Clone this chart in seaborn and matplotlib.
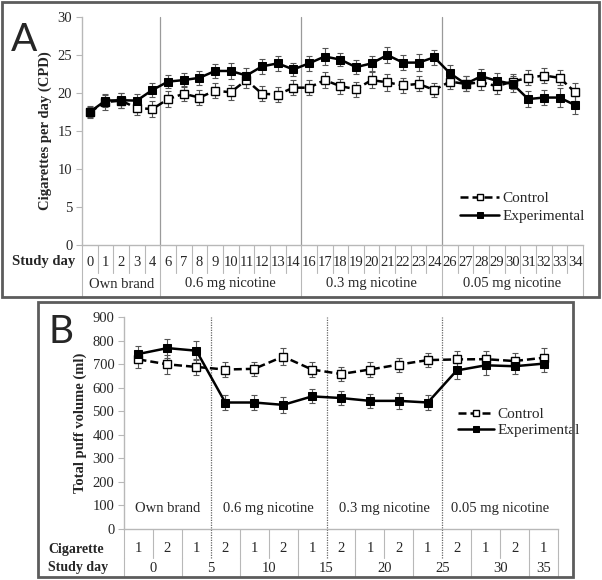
import matplotlib
matplotlib.use("Agg")
import matplotlib.pyplot as plt
import matplotlib.transforms as mtransforms
from matplotlib.patches import Rectangle
import seaborn as sns
import numpy as np
import pandas as pd

# ---------------- data ----------------
# Panel A: cigarettes per day
days_A = [0, 1, 2, 3, 4, 6, 7, 8, 9, 10, 11, 12, 13, 14, 16, 17, 18, 19, 20, 21, 22, 23, 24,
          26, 27, 28, 29, 30, 31, 32, 33, 34]
ctrl_A = [17.5, 18.8, 19.0, 18.0, 17.9, 19.2, 19.9, 19.4, 20.3, 20.1, 21.7, 19.9, 19.8, 20.7,
          20.7, 21.7, 20.9, 20.5, 21.7, 21.4, 21.0, 21.2, 20.4,
          21.5, 21.2, 21.4, 20.9, 21.5, 22.0, 22.3, 22.0, 20.1]
exp_A = [17.5, 19.0, 19.05, 19.0, 20.4, 21.5, 21.7, 22.0, 22.9, 22.9, 22.3, 23.5, 23.9, 23.1,
         23.9, 24.8, 24.4, 23.4, 23.9, 25.0, 24.0, 24.0, 24.7,
         22.6, 21.2, 22.2, 21.6, 21.2, 19.2, 19.4, 19.4, 18.4]
ctrl_A_err = [0.8, 1.0, 1.0, 0.9, 1.0, 1.0, 1.0, 1.0, 1.0, 1.0, 1.0, 1.0, 1.0, 1.0,
              1.0, 1.0, 1.0, 1.0, 1.1, 1.1, 1.0, 1.0, 0.9,
              1.0, 1.0, 1.0, 1.0, 1.0, 1.0, 1.0, 1.0, 1.2]
exp_A_err = [0.7, 0.9, 1.0, 0.9, 0.9, 0.9, 0.9, 0.9, 0.9, 1.0, 1.0, 1.0, 1.0, 0.9,
             1.0, 1.1, 0.9, 0.9, 1.0, 1.0, 1.0, 1.1, 1.0,
             1.1, 1.0, 1.0, 1.0, 1.1, 1.0, 1.0, 1.2, 1.2]
groups = ["Own brand", "0.6 mg nicotine", "0.3 mg nicotine", "0.05 mg nicotine"]
group_sizes_A = [5, 9, 9, 9]

# Panel B: total puff volume
cig_B = [1, 2, 1, 2, 1, 2, 1, 2, 1, 2, 1, 2, 1, 2, 1]
ctrl_B = [720, 699, 688, 677, 680, 732, 677, 658, 677, 698, 717, 720, 721, 713, 727]
exp_B = [743, 768, 757, 537, 537, 527, 563, 556, 544, 544, 537, 673, 695, 691, 702]
ctrl_B_err = [35, 40, 35, 30, 30, 35, 30, 30, 30, 30, 30, 35, 35, 35, 40]
exp_B_err = [35, 40, 40, 30, 30, 35, 30, 30, 30, 35, 30, 35, 40, 35, 35]
group_sizes_B = [3, 4, 4, 4]
study_day_B = ["0", "5", "10", "15", "20", "25", "30", "35"]
study_day_span_B = [2, 2, 2, 2, 2, 2, 2, 1]

# ---------------- style ----------------
sns.set_style("white")
plt.rcParams["font.family"] = ["Liberation Serif", "DejaVu Serif"]
plt.rcParams["legend.numpoints"] = 1

W, H = 602, 580
fig = plt.figure(figsize=(W / 100, H / 100), dpi=100)


def fx(x):
    return x / W


def fy(y):
    return 1 - y / H


GRID = "#b8b8b8"
SEP = "#9a9a9a"
FRAME = "#5c5c5c"

# frames
fig.patches.append(Rectangle((fx(1.5), fy(297)), fx(598.5) - fx(1.5), fy(1.5) - fy(297),
                             transform=fig.transFigure, fill=False, ec=FRAME, lw=2))
fig.patches.append(Rectangle((fx(38), fy(577)), fx(573) - fx(38), fy(302) - fy(577),
                             transform=fig.transFigure, fill=False, ec=FRAME, lw=2))

MS = 6.0

# =============== Panel A ===============
axA = fig.add_axes([fx(82), fy(245), fx(583) - fx(82), fy(17) - fy(245)])
xA = np.arange(len(days_A))
axA.errorbar(xA, ctrl_A, yerr=ctrl_A_err, fmt="none", ecolor="#555555", elinewidth=0.8,
             capsize=2.5, capthick=0.8, zorder=2)
axA.errorbar(xA, exp_A, yerr=exp_A_err, fmt="none", ecolor="#555555", elinewidth=0.8,
             capsize=2.5, capthick=0.8, zorder=2)
sns.lineplot(x=xA, y=ctrl_A, ax=axA, color="black", lw=1.8, ls=(0, (3.2, 1.6)), marker="s",
             markersize=MS, markerfacecolor="white", markeredgecolor="black",
             markeredgewidth=1.0, label="Control", zorder=3)
sns.lineplot(x=xA, y=exp_A, ax=axA, color="black", lw=1.8, marker="s", markersize=MS,
             markerfacecolor="black", markeredgecolor="black", label="Experimental", zorder=4)
axA.set_xlim(-0.5, len(days_A) - 0.5)
axA.set_ylim(0, 30)
axA.set_yticks(range(0, 31, 5))
axA.tick_params(axis="y", labelsize=10.5, length=4, color=GRID, pad=3, left=True)
axA.set_xticks([])
for s in ["top", "right"]:
    axA.spines[s].set_visible(False)
for s in ["left", "bottom"]:
    axA.spines[s].set_color(GRID)
    axA.spines[s].set_linewidth(1.0)
axA.set_ylabel("Cigarettes per day (CPD)", fontsize=10.5, fontweight="bold", labelpad=4)

trA = mtransforms.blended_transform_factory(axA.transData, axA.transAxes)
row1_bot_A = -(273 - 245) / 228
row2_bot_A = -(297 - 245) / 228
bounds_A = np.cumsum([0] + group_sizes_A) - 0.5
for k in range(len(days_A) + 1):
    xb = k - 0.5
    if xb in bounds_A:
        ylo = row2_bot_A
    else:
        ylo = row1_bot_A
    axA.plot([xb, xb], [0, ylo], transform=trA, color=GRID, lw=0.8, clip_on=False)
for xb in bounds_A[1:-1]:
    axA.plot([xb, xb], [0, 1], transform=trA, color=SEP, lw=0.9, clip_on=False)
for i, d in enumerate(days_A):
    axA.text(i, -(262 - 245) / 228, str(d), transform=trA, ha="center", va="center",
             fontsize=10.5)
for g, a, b in zip(groups, bounds_A[:-1], bounds_A[1:]):
    axA.text((a + b) / 2, -(284 - 245) / 228, g, transform=trA, ha="center", va="center",
             fontsize=10.5)
fig.text(fx(12), fy(262), "Study day", fontsize=10.5, fontweight="bold", ha="left", va="center")

axA.legend(loc="upper left", bbox_to_anchor=(fx(452), fy(184)), bbox_transform=fig.transFigure,
           frameon=False, fontsize=11, handlelength=2.6, handletextpad=0.2, labelspacing=0.25,
           borderpad=0, markerscale=0.8)
fig.text(fx(11), fy(40), "A", fontsize=28, family="Lato", ha="left", va="center")

# =============== Panel B ===============
axB = fig.add_axes([fx(124), fy(529), fx(558) - fx(124), fy(317) - fy(529)])
xB = np.arange(len(cig_B))
axB.errorbar(xB, ctrl_B, yerr=ctrl_B_err, fmt="none", ecolor="#555555", elinewidth=0.8,
             capsize=2.5, capthick=0.8, zorder=2)
axB.errorbar(xB, exp_B, yerr=exp_B_err, fmt="none", ecolor="#555555", elinewidth=0.8,
             capsize=2.5, capthick=0.8, zorder=2)
sns.lineplot(x=xB, y=ctrl_B, ax=axB, color="black", lw=1.8, ls=(0, (3.2, 1.6)), marker="s",
             markersize=MS, markerfacecolor="white", markeredgecolor="black",
             markeredgewidth=1.0, label="Control", zorder=3)
sns.lineplot(x=xB, y=exp_B, ax=axB, color="black", lw=1.8, marker="s", markersize=MS,
             markerfacecolor="black", markeredgecolor="black", label="Experimental", zorder=4)
axB.set_xlim(-0.5, len(cig_B) - 0.5)
axB.set_ylim(0, 900)
axB.set_yticks(range(0, 901, 100))
axB.tick_params(axis="y", labelsize=10.5, length=4, color=GRID, pad=3, left=True)
axB.set_xticks([])
for s in ["top", "right"]:
    axB.spines[s].set_visible(False)
for s in ["left", "bottom"]:
    axB.spines[s].set_color(GRID)
    axB.spines[s].set_linewidth(1.0)
axB.set_ylabel("Total puff volume (ml)", fontsize=10.5, fontweight="bold", labelpad=4)

trB = mtransforms.blended_transform_factory(axB.transData, axB.transAxes)
hB = 529 - 317
row1_bot_B = -(558 - 529) / hB
row2_bot_B = -(577 - 529) / hB
bounds_B = np.cumsum([0] + group_sizes_B) - 0.5
for k in range(len(cig_B) + 1):
    xb = k - 0.5
    if xb in bounds_B[1:-1]:
        continue
    axB.plot([xb, xb], [0, row1_bot_B], transform=trB, color=GRID, lw=0.8, clip_on=False)
for xb in bounds_B[1:-1]:
    axB.plot([xb, xb], [row1_bot_B, 1], transform=trB, color="#666666", lw=0.9,
             ls=(0, (1, 1)), clip_on=False)
sd_bounds = np.cumsum([0] + study_day_span_B) - 0.5
for xb in sd_bounds:
    axB.plot([xb, xb], [row1_bot_B, row2_bot_B], transform=trB, color=GRID, lw=0.8,
             clip_on=False)
for i, c in enumerate(cig_B):
    axB.text(i, -(549 - 529) / hB, str(c), transform=trB, ha="center", va="center",
             fontsize=10.5)
for lab, a, b in zip(study_day_B, sd_bounds[:-1], sd_bounds[1:]):
    axB.text((a + b) / 2, -(568 - 529) / hB, lab, transform=trB, ha="center", va="center",
             fontsize=10.5)
for g, a, b in zip(groups, bounds_B[:-1], bounds_B[1:]):
    axB.text((a + b) / 2, 85, g, ha="center", va="center", fontsize=10.5)
fig.text(fx(48), fy(549), "Cigarette", fontsize=10, fontweight="bold", ha="left", va="center")
fig.text(fx(48), fy(568), "Study day", fontsize=10, fontweight="bold", ha="left", va="center")

axB.legend(loc="upper left", bbox_to_anchor=(fx(450), fy(400)), bbox_transform=fig.transFigure,
           frameon=False, fontsize=11, handlelength=2.4, handletextpad=0.2, labelspacing=0.15,
           borderpad=0, markerscale=0.8)
fig.text(fx(48), fy(332), "B", fontsize=28, family="Lato", ha="left", va="center")

fig.savefig("out.png", dpi=100)
